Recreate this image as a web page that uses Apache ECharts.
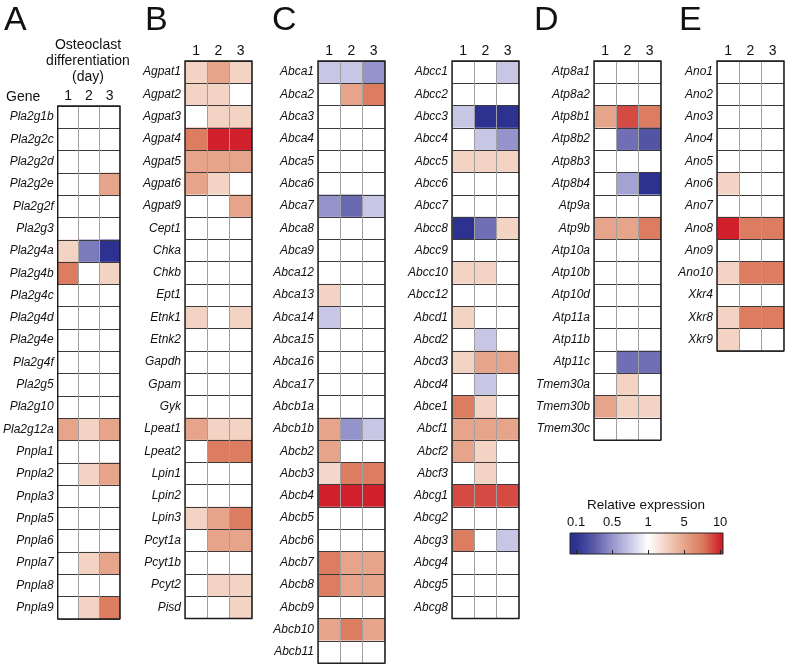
<!DOCTYPE html>
<html><head><meta charset="utf-8">
<script src="https://cdn.jsdelivr.net/npm/echarts@6/dist/echarts.min.js"></script>
<style>html,body{margin:0;padding:0;background:#fff}#c{width:787px;height:667px}</style>
</head><body><div id="c"></div>
<script>
// ---------------- DATA ----------------
const days = ['1', '2', '3'];

const genesA = ['Pla2g1b','Pla2g2c','Pla2g2d','Pla2g2e','Pla2g2f','Pla2g3','Pla2g4a','Pla2g4b','Pla2g4c','Pla2g4d','Pla2g4e','Pla2g4f','Pla2g5','Pla2g10','Pla2g12a','Pnpla1','Pnpla2','Pnpla3','Pnpla5','Pnpla6','Pnpla7','Pnpla8','Pnpla9'];
const valuesA = [[1,1,1],[1,1,1],[1,1,1],[1,1,5],[1,1,1],[1,1,1],[2.2,0.35,0.1],[7,1,2.2],[1,1,1],[1,1,1],[1,1,1],[1,1,1],[1,1,1],[1,1,1],[5,2.2,5],[1,1,1],[1,2.2,5],[1,1,1],[1,1,1],[1,1,1],[1,2.2,5],[1,1,1],[1,2.2,7]];

const genesB = ['Agpat1','Agpat2','Agpat3','Agpat4','Agpat5','Agpat6','Agpat9','Cept1','Chka','Chkb','Ept1','Etnk1','Etnk2','Gapdh','Gpam','Gyk','Lpeat1','Lpeat2','Lpin1','Lpin2','Lpin3','Pcyt1a','Pcyt1b','Pcyt2','Pisd'];
const valuesB = [[2.2,5,2.2],[2.2,2.2,1],[1,2.2,2.2],[7,10,10],[5,5,5],[5,2.2,1],[1,1,5],[1,1,1],[1,1,1],[1,1,1],[1,1,1],[2.2,1,2.2],[1,1,1],[1,1,1],[1,1,1],[1,1,1],[5,2.2,2.2],[1,7,7],[1,1,1],[1,1,1],[2.2,5,7],[1,5,5],[1,1,1],[1,2.2,2.2],[1,1,2.2]];

const genesC1 = ['Abca1','Abca2','Abca3','Abca4','Abca5','Abca6','Abca7','Abca8','Abca9','Abca12','Abca13','Abca14','Abca15','Abca16','Abca17','Abcb1a','Abcb1b','Abcb2','Abcb3','Abcb4','Abcb5','Abcb6','Abcb7','Abcb8','Abcb9','Abcb10','Abcb11'];
const valuesC1 = [[0.7,0.7,0.5],[1,5,7],[1,1,1],[1,1,1],[1,1,1],[1,1,1],[0.5,0.28,0.7],[1,1,1],[1,1,1],[1,1,1],[2.2,1,1],[0.7,1,1],[1,1,1],[1,1,1],[1,1,1],[1,1,1],[5,0.5,0.7],[5,1,1],[2,7,7],[10,10,10],[1,1,1],[1,1,1],[7,5,5],[7,5,5],[1,1,1],[5,7,5],[1,1,1]];

const genesC2 = ['Abcc1','Abcc2','Abcc3','Abcc4','Abcc5','Abcc6','Abcc7','Abcc8','Abcc9','Abcc10','Abcc12','Abcd1','Abcd2','Abcd3','Abcd4','Abce1','Abcf1','Abcf2','Abcf3','Abcg1','Abcg2','Abcg3','Abcg4','Abcg5','Abcg8'];
const valuesC2 = [[1,1,0.7],[1,1,1],[0.7,0.1,0.1],[1,0.7,0.5],[2.2,2.2,2.2],[1,1,1],[1,1,1],[0.1,0.3,2.2],[1,1,1],[2.2,2.2,1],[1,1,1],[2.2,1,1],[1,0.7,1],[2.2,5,5],[1,0.7,1],[7,2.2,1],[5,5,5],[5,2.2,1],[1,2.2,1],[8.5,8.5,8.5],[1,1,1],[7,1,0.7],[1,1,1],[1,1,1],[1,1,1]];

const genesD = ['Atp8a1','Atp8a2','Atp8b1','Atp8b2','Atp8b3','Atp8b4','Atp9a','Atp9b','Atp10a','Atp10b','Atp10d','Atp11a','Atp11b','Atp11c','Tmem30a','Tmem30b','Tmem30c'];
const valuesD = [[1,1,1],[1,1,1],[5,8.5,7],[1,0.3,0.2],[1,1,1],[1,0.55,0.1],[1,1,1],[5,5,7],[1,1,1],[1,1,1],[1,1,1],[1,1,1],[1,1,1],[1,0.3,0.3],[1,2.2,1],[5,2.2,2.2],[1,1,1]];

const genesE = ['Ano1','Ano2','Ano3','Ano4','Ano5','Ano6','Ano7','Ano8','Ano9','Ano10','Xkr4','Xkr8','Xkr9'];
const valuesE = [[1,1,1],[1,1,1],[1,1,1],[1,1,1],[1,1,1],[2.2,1,1],[1,1,1],[10,7,7],[1,1,1],[2.2,7,7],[1,1,1],[2.2,7,7],[2.2,1,1]];

const panelLetters = ['A', 'B', 'C', 'D', 'E'];
const legendTicks = [0.1, 0.5, 1, 5, 10];
const legendTickLabels = ['0.1', '0.5', '1', '5', '10'];
const legendTitle = 'Relative expression';
const headerLines = ['Osteoclast', 'differentiation', '(day)'];
const geneHeader = 'Gene';

// ---------------- STYLE / LAYOUT ----------------
const FONT = "'Liberation Sans', Arial, Helvetica, sans-serif";
const CELL = 22.3;
const colorRamp = ['#2d3190','#5a5aa8','#9593cb','#c9c8e6','#ffffff','#f3d2c3','#e6a58b','#dc7b5f','#cf202b'];
const panels = [
  {genes: genesA, values: valuesA, left: 53, top: 106},
  {genes: genesB, values: valuesB, left: 185, top: 61},
  {genes: genesC1, values: valuesC1, left: 318, top: 61},
  {genes: genesC2, values: valuesC2, left: 452, top: 61},
  {genes: genesD, values: valuesD, left: 594, top: 61},
  {genes: genesE, values: valuesE, left: 717, top: 61}
];

// position on the legend scale (ticks equally spaced, log interpolation between)
function toPos(v) {
  const t = legendTicks;
  if (v <= t[0]) return 0;
  if (v >= t[t.length - 1]) return t.length - 1;
  for (let i = 0; i < t.length - 1; i++) {
    if (v <= t[i + 1]) return i + (Math.log(v) - Math.log(t[i])) / (Math.log(t[i + 1]) - Math.log(t[i]));
  }
}

const grids = [], xAxes = [], yAxes = [], series = [];
panels.forEach((p, i) => {
  grids.push({left: p.left, top: p.top, width: CELL * 3, height: CELL * p.genes.length,
    show: true, backgroundColor: 'transparent', borderColor: '#1a1a1a', borderWidth: 1.4, z: 6});
  xAxes.push({gridIndex: i, type: 'category', data: days, position: 'top', z: 5,
    axisLine: {show: false}, axisTick: {show: false},
    axisLabel: {margin: 3, fontSize: 14, color: '#111', fontFamily: FONT},
    splitLine: {show: true, interval: 0, lineStyle: {color: '#a0a0a0', width: 1}}});
  yAxes.push({gridIndex: i, type: 'category', data: p.genes, inverse: true, z: 5,
    axisLine: {show: false}, axisTick: {show: false},
    axisLabel: {interval: 0, margin: 4, fontSize: 12, fontStyle: 'italic', color: '#111', fontFamily: FONT},
    splitLine: {show: true, interval: 0, lineStyle: {color: '#3a3a3a', width: 1}}});
  const data = [];
  p.values.forEach((row, r) => row.forEach((v, c) => data.push([c, r, toPos(v), v])));
  series.push({type: 'heatmap', xAxisIndex: i, yAxisIndex: i, data: data,
    itemStyle: {borderWidth: 0}, emphasis: {disabled: true}, silent: true, progressive: 0});
});

// colour bar
const cbMin = -0.17, cbMax = 4.08;
const gradStops = colorRamp.map((c, k) => {
  const pos = k * (legendTicks.length - 1) / (colorRamp.length - 1);
  return {offset: Math.min(1, Math.max(0, (pos - cbMin) / (cbMax - cbMin))), color: c};
});
gradStops.unshift({offset: 0, color: colorRamp[0]});
gradStops.push({offset: 1, color: colorRamp[colorRamp.length - 1]});
const cbIndex = panels.length;
grids.push({left: 570, top: 533, width: 153, height: 21, show: true,
  backgroundColor: new echarts.graphic.LinearGradient(0, 0, 1, 0, gradStops),
  borderColor: '#222', borderWidth: 1});
const tickIdx = legendTicks.map((_, k) => k);
xAxes.push({gridIndex: cbIndex, type: 'value', min: cbMin, max: cbMax, position: 'top',
  axisLine: {show: false}, splitLine: {show: false},
  axisTick: {show: true, customValues: tickIdx, length: 4, lineStyle: {color: '#222'}},
  axisLabel: {customValues: tickIdx, margin: 4, fontSize: 13, color: '#111', fontFamily: FONT,
    formatter: v => legendTickLabels[Math.round(v)]}});
yAxes.push({gridIndex: cbIndex, type: 'value', show: false});

const letterX = [4, 145, 272, 534, 679];
const graphics = panelLetters.map((L, k) => ({type: 'text', x: letterX[k], y: 21,
  style: {text: L, fontSize: 34, fontFamily: FONT, fill: '#111', align: 'left', verticalAlign: 'middle'}}));
headerLines.forEach((t, k) => graphics.push({type: 'text', x: 88, y: 45 + k * 16,
  style: {text: t, fontSize: 14, fontFamily: FONT, fill: '#111', align: 'center', verticalAlign: 'middle'}}));
graphics.push({type: 'text', x: 6, y: 97,
  style: {text: geneHeader, fontSize: 14, fontFamily: FONT, fill: '#111', align: 'left', verticalAlign: 'middle'}});
graphics.push({type: 'text', x: 646, y: 505,
  style: {text: legendTitle, fontSize: 13.5, fontFamily: FONT, fill: '#111', align: 'center', verticalAlign: 'middle'}});

const chart = echarts.init(document.getElementById('c'), null, {renderer: 'canvas'});
chart.setOption({
  animation: false,
  backgroundColor: '#fff',
  grid: grids, xAxis: xAxes, yAxis: yAxes, series: series,
  visualMap: {type: 'continuous', show: false, min: 0, max: legendTicks.length - 1, dimension: 2,
    seriesIndex: series.map((_, k) => k), inRange: {color: colorRamp}},
  graphic: graphics
});
</script></body></html>
